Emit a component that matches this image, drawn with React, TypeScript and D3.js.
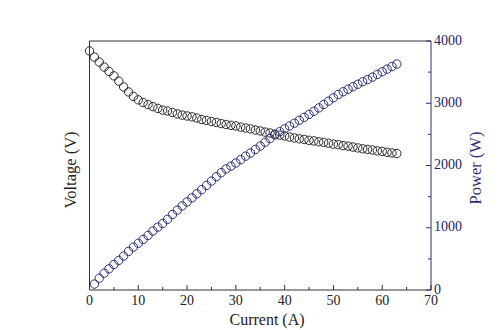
import React from 'react';
import * as d3 from 'd3';

// Current (A) at each voltage sample
const voltageCurrent = [
  0, 1, 2, 3, 4, 5, 6, 7, 8, 9, 10, 11, 12, 13, 14, 15, 16, 17, 18, 19, 20, 21,
  22, 23, 24, 25, 26, 27, 28, 29, 30, 31, 32, 33, 34, 35, 36, 37, 38, 39, 40, 41,
  42, 43, 44, 45, 46, 47, 48, 49, 50, 51, 52, 53, 54, 55, 56, 57, 58, 59, 60, 61,
  62, 63,
];
const voltage = [
  92.6, 90.5, 88.8, 87.1, 85.6, 84.1, 82.3, 80.3, 78.6, 77.1, 75.9, 75.0, 74.3,
  73.6, 73.0, 72.4, 72.1, 71.6, 71.1, 70.7, 70.4, 70.1, 69.7, 69.2, 68.9, 68.5,
  68.2, 67.8, 67.5, 67.2, 67.0, 66.6, 66.3, 66.0, 65.6, 65.3, 64.9, 64.6, 64.2,
  63.9, 63.6, 63.2, 62.9, 62.6, 62.4, 62.1, 61.9, 61.6, 61.4, 61.1, 60.8, 60.6,
  60.3, 60.1, 59.8, 59.5, 59.2, 59.0, 58.8, 58.5, 58.3, 58.0, 57.8, 57.6,
];

// Current (A) at each power sample
const powerCurrent = [
  1, 2, 3, 4, 5, 6, 7, 8, 9, 10, 11, 12, 13, 14, 15, 16, 17, 18, 19, 20, 21, 22,
  23, 24, 25, 26, 27, 28, 29, 30, 31, 32, 33, 34, 35, 36, 37, 38, 39, 40, 41, 42,
  43, 44, 45, 46, 47, 48, 49, 50, 51, 52, 53, 54, 55, 56, 57, 58, 59, 60, 61, 62,
  63,
];
const power = [
  95, 190, 270, 340, 410, 475, 545, 620, 690, 750, 812, 876, 948, 1010, 1068,
  1135, 1212, 1282, 1350, 1415, 1480, 1546, 1612, 1680, 1750, 1820, 1885, 1945,
  1990, 2040, 2094, 2150, 2200, 2258, 2313, 2373, 2433, 2493, 2543, 2590, 2635,
  2680, 2727, 2774, 2821, 2870, 2925, 2980, 3034, 3088, 3140, 3185, 3225, 3265,
  3305, 3345, 3380, 3420, 3463, 3506, 3548, 3590, 3630,
];

const xTicks = [0, 10, 20, 30, 40, 50, 60, 70];
const powerTicks = [0, 1000, 2000, 3000, 4000];

const W = 499;
const H = 330;
const left = 89.5;
const right = 431;
const top = 41;
const bottom = 290;

const NAVY = '#2e2e78';
const FONT = '"Liberation Serif", "Times New Roman", serif';

export default function App() {
  const x = d3.scaleLinear().domain([0, 70]).range([left, right]);
  const yV = d3.scaleLinear().domain([11, 96]).range([bottom, top]);
  const yP = d3.scaleLinear().domain([0, 4000]).range([bottom, top]);

  const xMinor = d3.range(5, 70, 10);
  const pMinor = d3.range(500, 4000, 1000);

  return (
    <div style={{ position: 'absolute', left: 0, top: 0 }}>
      <svg width={W} height={H} style={{ display: 'block', background: '#fff' }}>
        {/* frame */}
        <line x1={left} x2={right} y1={top} y2={top} stroke="#333" strokeWidth={1} />
        <line x1={left} x2={left} y1={top} y2={bottom} stroke="#333" strokeWidth={1} />
        <line x1={left} x2={right} y1={bottom} y2={bottom} stroke="#333" strokeWidth={1} />
        <line x1={right} x2={right} y1={top} y2={bottom} stroke={NAVY} strokeWidth={1} />

        {/* x ticks */}
        {xTicks.map((t) => (
          <g key={'xt' + t}>
            <line x1={x(t)} x2={x(t)} y1={bottom} y2={bottom - 5} stroke="#333" />
            <text
              x={x(t)}
              y={305}
              textAnchor="middle"
              fontFamily={FONT}
              fontSize={14}
              fill="#222"
            >
              {t}
            </text>
          </g>
        ))}
        {xMinor.map((t) => (
          <line key={'xm' + t} x1={x(t)} x2={x(t)} y1={bottom} y2={bottom - 3} stroke="#333" />
        ))}

        {/* power axis ticks */}
        {powerTicks.map((t) => (
          <g key={'pt' + t}>
            <line x1={right} x2={right - 5} y1={yP(t)} y2={yP(t)} stroke={NAVY} />
            <text
              x={right + 3}
              y={yP(t) + 3.5}
              fontFamily={FONT}
              fontSize={14}
              fill="#23235e"
            >
              {t}
            </text>
          </g>
        ))}
        {pMinor.map((t) => (
          <line key={'pm' + t} x1={right} x2={right - 3} y1={yP(t)} y2={yP(t)} stroke={NAVY} />
        ))}

        {/* axis titles */}
        <text
          x={267}
          y={325}
          textAnchor="middle"
          fontFamily={FONT}
          fontSize={16}
          fill="#222"
        >
          Current (A)
        </text>
        <text
          transform={`translate(76,170) rotate(-90)`}
          textAnchor="middle"
          fontFamily={FONT}
          fontSize={16.5}
          fill="#222"
        >
          Voltage (V)
        </text>
        <text
          transform={`translate(481,168) rotate(-90)`}
          textAnchor="middle"
          fontFamily={FONT}
          fontSize={16.5}
          fill={NAVY}
        >
          Power (W)
        </text>

        {/* voltage series */}
        {voltage.map((v, i) => (
          <circle
            key={'v' + i}
            cx={x(voltageCurrent[i])}
            cy={yV(v)}
            r={4.2}
            fill="none"
            stroke="#2a2a2a"
            strokeWidth={1}
          />
        ))}

        {/* power series */}
        {power.map((p, i) => (
          <circle
            key={'p' + i}
            cx={x(powerCurrent[i])}
            cy={yP(p)}
            r={4.2}
            fill="none"
            stroke={NAVY}
            strokeWidth={1}
          />
        ))}
      </svg>
    </div>
  );
}
